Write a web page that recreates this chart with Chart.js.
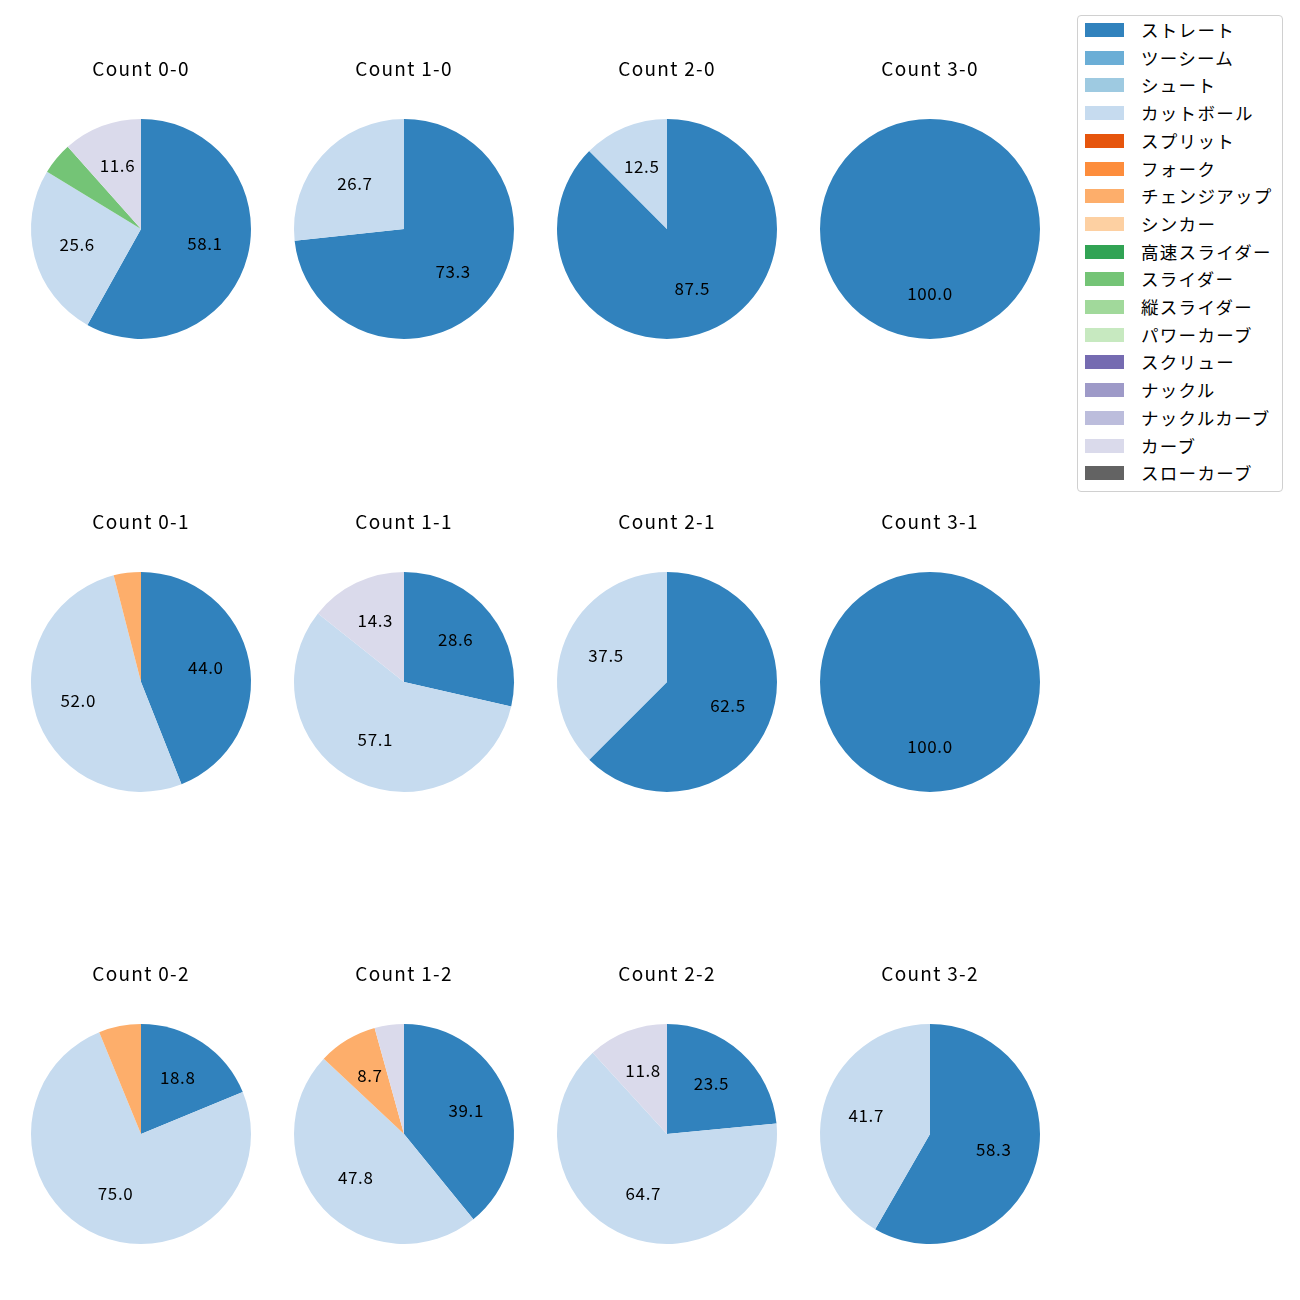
<!DOCTYPE html>
<html><head><meta charset="utf-8">
<script src="https://cdn.jsdelivr.net/npm/chart.js@4"></script>
<style>
html,body{margin:0;padding:0;background:#fff;}
#wrap{position:relative;width:1300px;height:1300px;font-family:"Noto Sans CJK JP","Noto Sans",sans-serif;}
.pc{position:absolute;}
#legend{position:absolute;left:1077px;top:15px;width:206px;height:477px;border:1px solid #d0d0d0;border-radius:4px;box-sizing:border-box;}
.li{position:absolute;left:0;height:20px;}
.sw{position:absolute;left:7px;width:39px;height:14px;}
.lt{position:absolute;left:63px;top:-5px;font-size:17.5px;line-height:24px;letter-spacing:1.3px;white-space:nowrap;color:#000;}
</style></head>
<body><div id="wrap"><div id="legend"></div></div>
<script>
const pitchTypes = ["ストレート","ツーシーム","シュート","カットボール","スプリット","フォーク","チェンジアップ","シンカー","高速スライダー","スライダー","縦スライダー","パワーカーブ","スクリュー","ナックル","ナックルカーブ","カーブ","スローカーブ"];
const pitchColors = ["#3182bd","#6baed6","#9ecae1","#c6dbef","#e6550d","#fd8d3c","#fdae6b","#fdd0a2","#31a354","#74c476","#a1d99b","#c7e9c0","#756bb1","#9e9ac8","#bcbddc","#dadaeb","#636363"];
const countTitles = ["Count 0-0","Count 1-0","Count 2-0","Count 3-0","Count 0-1","Count 1-1","Count 2-1","Count 3-1","Count 0-2","Count 1-2","Count 2-2","Count 3-2"];
// values in pitchTypes order (percent)
const count00 = [58.1,0,0,25.6,0,0,0,0,0,4.7,0,0,0,0,0,11.6,0];
const count10 = [73.3,0,0,26.7,0,0,0,0,0,0,0,0,0,0,0,0,0];
const count20 = [87.5,0,0,12.5,0,0,0,0,0,0,0,0,0,0,0,0,0];
const count30 = [100,0,0,0,0,0,0,0,0,0,0,0,0,0,0,0,0];
const count01 = [44.0,0,0,52.0,0,0,4.0,0,0,0,0,0,0,0,0,0,0];
const count11 = [28.6,0,0,57.1,0,0,0,0,0,0,0,0,0,0,0,14.3,0];
const count21 = [62.5,0,0,37.5,0,0,0,0,0,0,0,0,0,0,0,0,0];
const count31 = [100,0,0,0,0,0,0,0,0,0,0,0,0,0,0,0,0];
const count02 = [18.8,0,0,75.0,0,0,6.2,0,0,0,0,0,0,0,0,0,0];
const count12 = [39.1,0,0,47.8,0,0,8.7,0,0,0,0,0,0,0,0,4.3,0];
const count22 = [23.5,0,0,64.7,0,0,0,0,0,0,0,0,0,0,0,11.8,0];
const count32 = [58.3,0,0,41.7,0,0,0,0,0,0,0,0,0,0,0,0,0];
const countValues = [count00,count10,count20,count30,count01,count11,count21,count31,count02,count12,count22,count32];

const FONT = "'Noto Sans CJK JP','Noto Sans',sans-serif";
const colCenters = [141,404,667,930];
const rowCenters = [229,682,1134];
const R = 110;

const spacing = {
  id:'spacing',
  beforeDraw(chart){ chart.ctx.letterSpacing = '1.3px'; },
  afterDraw(chart){ chart.ctx.letterSpacing = '0px'; }
};

const pctLabels = {
  id:'pctLabels',
  afterDatasetsDraw(chart){
    const ctx = chart.ctx;
    const meta = chart.getDatasetMeta(0);
    const data = chart.data.datasets[0].data;
    const total = data.reduce((a,b)=>a+b,0);
    ctx.save();
    ctx.letterSpacing = '0.6px';
    ctx.font = "17px " + FONT;
    ctx.fillStyle = "#000";
    ctx.textAlign = "center";
    ctx.textBaseline = "middle";
    meta.data.forEach((arc,i)=>{
      const v = data[i];
      if (!v) return;
      const pct = v/total*100;
      if (pct < 7.5) return;
      const p = arc.getProps(['x','y','startAngle','endAngle','outerRadius'],true);
      const a = (p.startAngle+p.endAngle)/2;
      const r = p.outerRadius*0.6;
      ctx.fillText(pct.toFixed(1), p.x+Math.cos(a)*r, p.y+Math.sin(a)*r - 1.5);
    });
    ctx.restore();
  }
};

const wrap = document.getElementById('wrap');
countTitles.forEach((title,idx)=>{
  const cx = colCenters[idx%4], cy = rowCenters[Math.floor(idx/4)];
  const div = document.createElement('div');
  div.className = 'pc';
  const top = cy - R - 62;
  const h = 62 + 2*R;
  div.style.left = (cx - R - 20) + 'px';
  div.style.top = top + 'px';
  div.style.width = (2*R + 40) + 'px';
  div.style.height = h + 'px';
  const cv = document.createElement('canvas');
  div.appendChild(cv);
  wrap.appendChild(div);
  new Chart(cv, {
    type:'pie',
    data:{labels:pitchTypes, datasets:[{data:countValues[idx], backgroundColor:pitchColors, borderWidth:0}]},
    options:{
      responsive:true, maintainAspectRatio:false, animation:false,
      layout:{padding:{left:20,right:20,top:0,bottom:0}},
      plugins:{
        legend:{display:false}, tooltip:{enabled:false},
        title:{display:true, text:title, color:'#000', font:{family:FONT,size:19,weight:'normal'}, padding:{top:0,bottom:39}}
      }
    },
    plugins:[spacing, pctLabels]
  });
});

const leg = document.getElementById('legend');
pitchTypes.forEach((name,i)=>{
  const row = document.createElement('div');
  row.className='li';
  row.style.top = (7 + i*27.7) + 'px';
  row.innerHTML = '<div class="sw" style="background:'+pitchColors[i]+'"></div><div class="lt">'+name+'</div>';
  leg.appendChild(row);
});
</script></body></html>
